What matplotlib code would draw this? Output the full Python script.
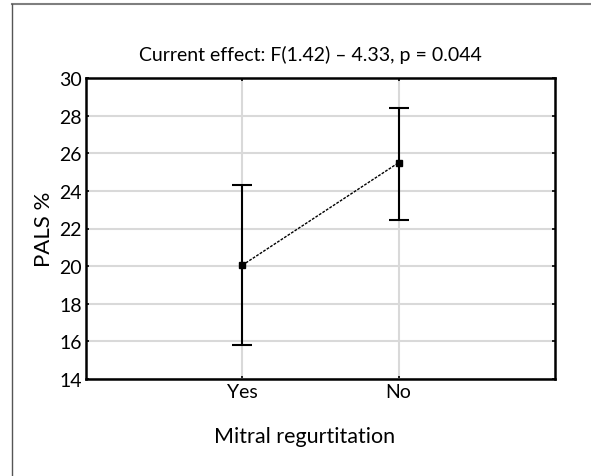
import matplotlib
matplotlib.use("Agg")
import matplotlib.pyplot as plt
from matplotlib.lines import Line2D

# group means and error limits of PALS %
groups = ["Yes", "No"]
means = [20.05, 25.5]
upper = [24.3, 28.4]
lower = [15.8, 22.45]
yticks = [14, 16, 18, 20, 22, 24, 26, 28, 30]

plt.rcParams['font.family'] = ['Lato', 'DejaVu Sans']

W, H = 591, 477
fig = plt.figure(figsize=(W / 100, H / 100), dpi=100)
ax = fig.add_axes([86 / W, 1 - 380 / H, (555 - 86) / W, (380 - 79) / H])

xs = [1, 2]
err_lo = [m - l for m, l in zip(means, lower)]
err_hi = [u - m for m, u in zip(means, upper)]

ax.plot(xs, means, color='black', linestyle=(0, (2, 1)), linewidth=1.0, zorder=3)
ax.errorbar(xs, means, yerr=[err_lo, err_hi], fmt='s', color='black',
            markersize=5, ecolor='black', elinewidth=1.5, capsize=7,
            capthick=1.5, zorder=4)

ax.set_xlim(0, 3)
ax.set_ylim(14, 30)
ax.set_xticks(xs)
ax.set_xticklabels(groups)
ax.set_yticks(yticks)
ax.grid(True, color='#d9d9d9', linewidth=1.5)
ax.set_axisbelow(True)
for s in ax.spines.values():
    s.set_linewidth(1.8)
    s.set_color('black')
ax.tick_params(axis='both', direction='in', length=2, width=1.2,
               labelsize=14, pad=3, top=True, right=True)

ax.set_ylabel("PALS %", fontsize=16, labelpad=4)
fig.text(310 / W, 1 - 55 / H, "Current effect: F(1.42) \u2013 4.33, p = 0.044",
         ha='center', va='center', fontsize=14)
fig.text(305 / W, 1 - 437 / H, "Mitral regurtitation", ha='center',
         va='center', fontsize=15.5)

# partial outer frame along the top and left edges
fig.add_artist(Line2D([12 / W, 1], [1 - 5 / H, 1 - 5 / H], color='#7f7f7f',
                      linewidth=1.5, transform=fig.transFigure))
fig.add_artist(Line2D([12 / W, 12 / W], [1 - 5 / H, 0], color='#555555',
                      linewidth=1.0, transform=fig.transFigure))

fig.savefig("out.png", dpi=100)
